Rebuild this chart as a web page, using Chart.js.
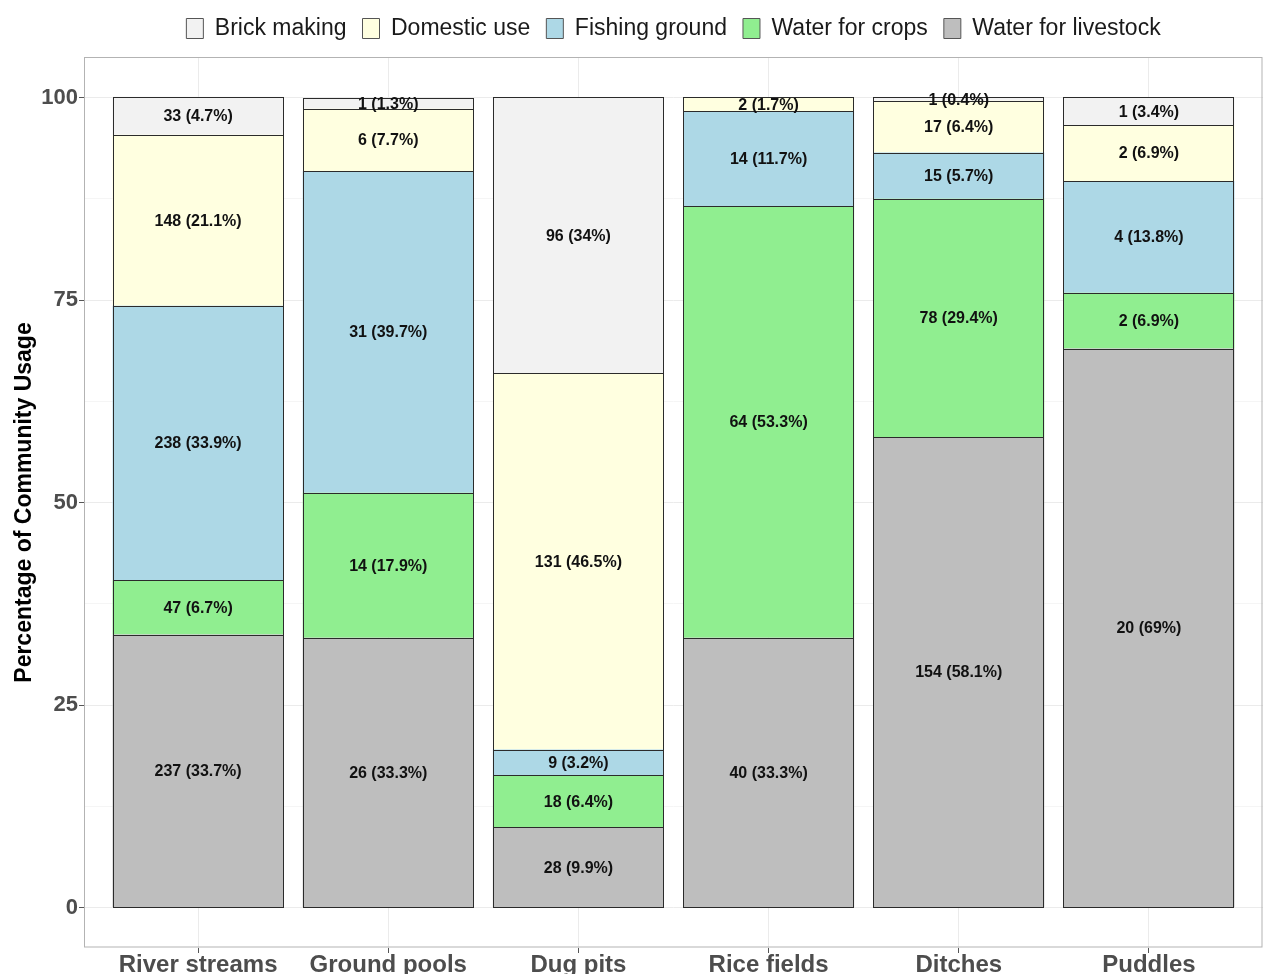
<!DOCTYPE html>
<html>
<head>
<meta charset="utf-8">
<script src="https://cdn.jsdelivr.net/npm/chart.js@4.4.0/dist/chart.umd.min.js"></script>
<style>
  html, body { margin: 0; padding: 0; background: #fff; overflow: hidden; }
  #wrap { position: relative; width: 1264px; height: 988px; }
</style>
</head>
<body>
<div id="wrap"><canvas id="usage-chart"></canvas></div>
<script>
const categories = ['River streams', 'Ground pools', 'Dug pits', 'Rice fields', 'Ditches', 'Puddles']

// counts + percentages per segment
const livestockCount = [237, 26, 28, 40, 154, 20]
const livestockPct = [33.7, 33.3, 9.9, 33.3, 58.1, 69]
const cropsCount = [47, 14, 18, 64, 78, 2]
const cropsPct = [6.7, 17.9, 6.4, 53.3, 29.4, 6.9]
const fishingCount = [238, 31, 9, 14, 15, 4]
const fishingPct = [33.9, 39.7, 3.2, 11.7, 5.7, 13.8]
const domesticCount = [148, 6, 131, 2, 17, 2]
const domesticPct = [21.1, 7.7, 46.5, 1.7, 6.4, 6.9]
const brickCount = [33, 1, 96, 0, 1, 1]
const brickPct = [4.7, 1.3, 34, 0, 0.4, 3.4]

const yMajor = [0, 25, 50, 75, 100]
const yMinor = [12.5, 37.5, 62.5, 87.5]

const font = '"Liberation Sans", Arial, Helvetica, sans-serif'

// bottom of the stack first, legend gets reversed
const seriesNames = ['Water for livestock', 'Water for crops', 'Fishing ground', 'Domestic use', 'Brick making']
const seriesCounts = [livestockCount, cropsCount, fishingCount, domesticCount, brickCount]
const seriesPcts = [livestockPct, cropsPct, fishingPct, domesticPct, brickPct]
const seriesColors = ['#BEBEBE', '#90EE90', '#ADD8E6', '#FFFFE0', '#F2F2F2']

const datasets = seriesNames.map((name, s) => ({
    label: name,
    data: seriesPcts[s].map((v, i) => ({x: i, y: v})),
    counts: seriesCounts[s],
    pcts: seriesPcts[s],
    backgroundColor: seriesColors[s],
    borderColor: '#333333',
    borderWidth: 0,
    inflateAmount: 0,
    categoryPercentage: 1,
    barPercentage: 0.9
}))

// crisp 1px outline round every segment, like ggplot's colour="black"
const barOutlines = {
    id: 'barOutlines',
    afterDatasetsDraw(chart) {
        const ctx = chart.ctx
        ctx.save()
        ctx.strokeStyle = '#2B2B2B'
        ctx.lineWidth = 1
        chart.data.datasets.forEach((ds, di) => {
            chart.getDatasetMeta(di).data.forEach((bar, i) => {
                if (!ds.pcts[i]) return
                const l = Math.round(bar.x - bar.width / 2) + 0.5
                const r = Math.round(bar.x + bar.width / 2) - 0.5
                const t = Math.round(Math.min(bar.y, bar.base)) + 0.5
                const b = Math.round(Math.max(bar.y, bar.base)) + 0.5
                ctx.strokeRect(l, t, r - l, b - t)
            })
        })
        ctx.restore()
    }
}

const segmentLabels = {
    id: 'segmentLabels',
    afterDatasetsDraw(chart) {
        const ctx = chart.ctx
        ctx.save()
        ctx.font = 'bold 16px ' + font
        ctx.fillStyle = '#111'
        ctx.textAlign = 'center'
        ctx.textBaseline = 'middle'
        chart.data.datasets.forEach((ds, di) => {
            chart.getDatasetMeta(di).data.forEach((bar, i) => {
                if (!ds.counts[i]) return
                ctx.fillText(ds.counts[i] + ' (' + ds.pcts[i] + '%)', bar.x, (bar.y + bar.base) / 2 + 1)
            })
        })
        ctx.restore()
    }
}

const panelBorder = {
    id: 'panelBorder',
    afterDraw(chart) {
        const {ctx, chartArea: a} = chart
        ctx.save()
        ctx.strokeStyle = '#B3B3B3'
        ctx.lineWidth = 1
        const l = Math.round(a.left) + 0.5, t = Math.round(a.top) + 0.5
        ctx.strokeRect(l, t, Math.round(a.right) - 1 - l, Math.round(a.bottom) - 1 - t)
        ctx.restore()
    }
}

const ctx = document.getElementById('usage-chart')

const usageChart = new Chart(ctx, {
    type: 'bar',
    data: { datasets: datasets },
    plugins: [barOutlines, segmentLabels, panelBorder],
    options: {
        responsive: true,
        maintainAspectRatio: false,
        animation: false,
        devicePixelRatio: 1,
        layout: { padding: { top: 1, right: 1, bottom: 0, left: 0 } },
        plugins: {
            tooltip: { enabled: false },
            legend: {
                position: 'top',
                fullSize: false,
                reverse: true,
                labels: {
                    font: { family: font, size: 23 },
                    color: '#1A1A1A',
                    boxWidth: 17,
                    boxHeight: 20,
                    padding: 16,
                    generateLabels: chart => {
                        const items = Chart.defaults.plugins.legend.labels.generateLabels(chart)
                        items.forEach(it => { it.lineWidth = 1; it.strokeStyle = '#555' })
                        return items
                    }
                }
            }
        },
        scales: {
            x: {
                type: 'linear',
                min: -0.6,
                max: 5.6,
                offset: false,
                stacked: true,
                afterBuildTicks: s => { s.ticks = categories.map((c, i) => ({value: i})) },
                afterFit: s => { s.height = 40 },
                grid: { offset: false, color: '#EBEBEB', tickLength: 5, tickColor: '#555' },
                border: { display: false },
                ticks: {
                    autoSkip: false,
                    maxRotation: 0,
                    padding: 0,
                    color: '#4D4D4D',
                    font: { family: font, size: 24, weight: 'bold', lineHeight: 1 },
                    callback: v => categories[v]
                }
            },
            gap: {
                type: 'linear',
                position: 'top',
                display: true,
                grid: { display: false, drawTicks: false },
                border: { display: false },
                ticks: { display: false },
                afterFit: s => { s.height = 7 }
            },
            y: {
                min: -5,
                max: 105,
                stacked: true,
                afterBuildTicks: s => { s.ticks = yMajor.concat(yMinor).sort((a, b) => a - b).map(v => ({value: v})) },
                afterFit: s => { s.width = 84 },
                grid: {
                    color: c => yMajor.includes(c.tick.value) ? '#EBEBEB' : '#F5F5F5',
                    tickColor: c => yMajor.includes(c.tick.value) ? '#555' : 'rgba(0,0,0,0)',
                    tickLength: 5
                },
                border: { display: false },
                ticks: {
                    padding: 1,
                    color: '#4D4D4D',
                    font: { family: font, size: 22, weight: 'bold' },
                    callback: v => yMajor.includes(v) ? v : ''
                },
                title: {
                    display: true,
                    text: 'Percentage of Community Usage',
                    color: '#000',
                    font: { family: font, size: 23, weight: 'bold', lineHeight: 1 },
                    padding: { top: 13, bottom: 0 }
                }
            }
        }
    }
})
</script>
</body>
</html>
